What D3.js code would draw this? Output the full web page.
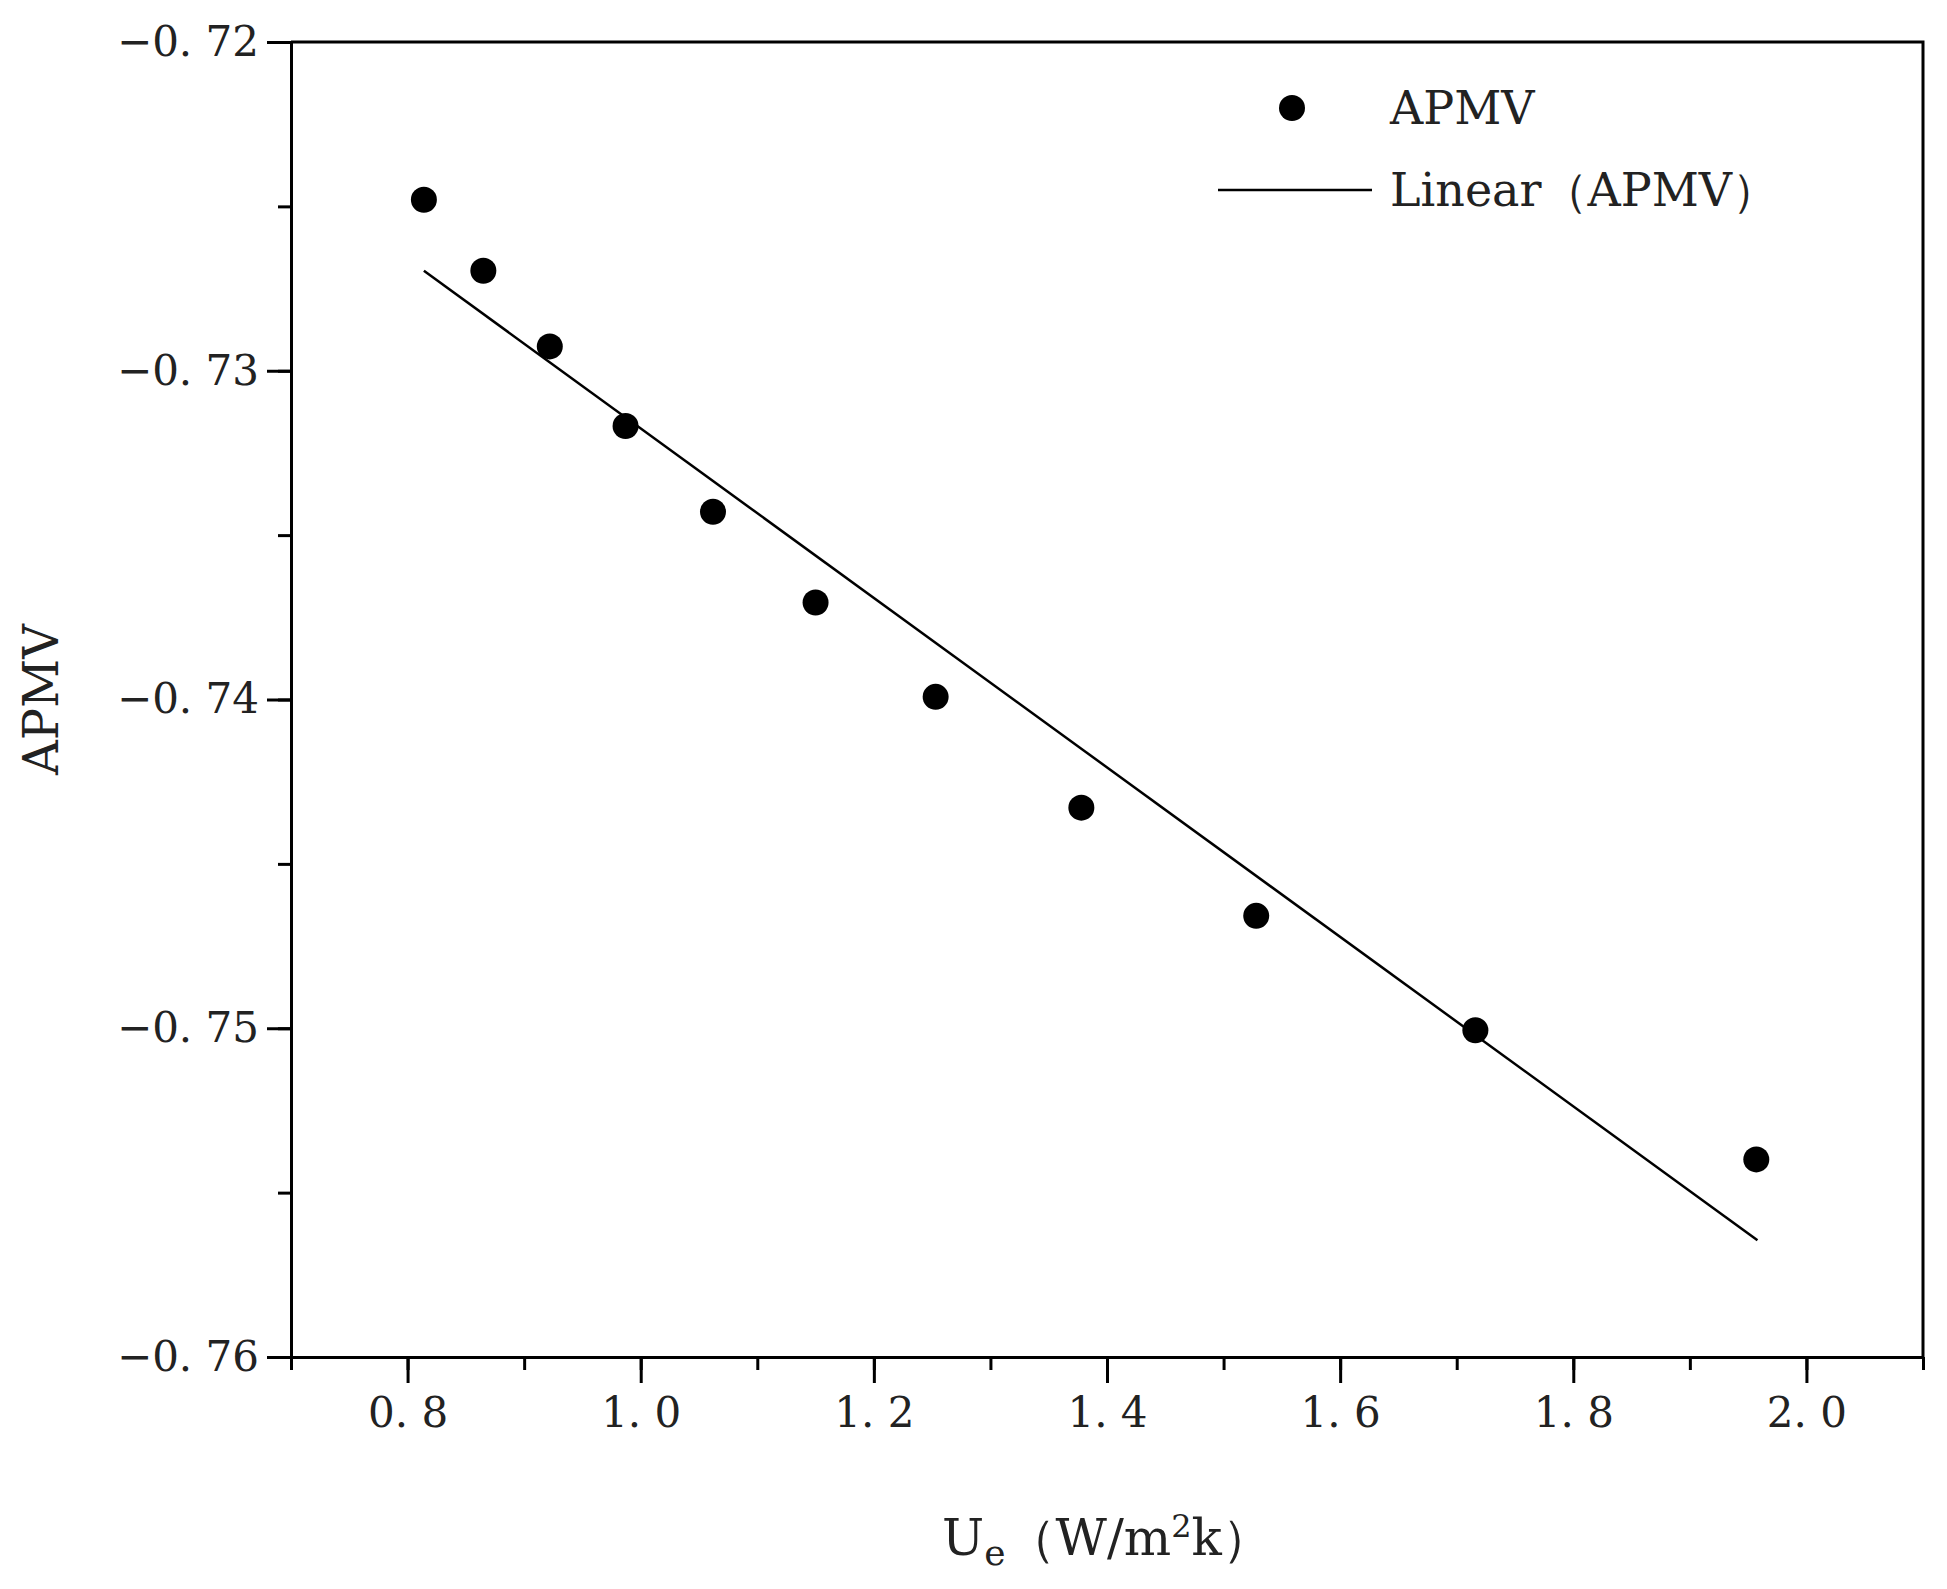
<!DOCTYPE html>
<html>
<head>
<meta charset="utf-8">
<script src="https://cdn.jsdelivr.net/npm/d3@7"></script>
<style>
  body { margin: 0; background: #fff; }
  text { font-family: "DejaVu Serif", "Liberation Serif", serif; fill: #222; }
</style>
</head>
<body>
<div id="chart"></div>
<script>
// data
const ueValues = [0.814, 0.865, 0.922, 0.987, 1.062, 1.150, 1.253, 1.378, 1.528, 1.716, 1.957];
const apmvValues = [-0.7248, -0.72696, -0.72926, -0.73168, -0.73429, -0.73705, -0.73992, -0.74329, -0.74658, -0.75006, -0.75399];
const fitX = [0.814, 1.958];
const fitY = [-0.72696, -0.75645];
const xTicks = [0.8, 1.0, 1.2, 1.4, 1.6, 1.8, 2.0];
const yTicks = [-0.72, -0.73, -0.74, -0.75, -0.76];

const width = 1947, height = 1589;
const margin = { left: 291, right: 24, top: 42, bottom: 232 };

const svg = d3.select("#chart").append("svg")
  .attr("width", width).attr("height", height);

const x = d3.scaleLinear().domain([0.7, 2.1]).range([margin.left, width - margin.right]);
const y = d3.scaleLinear().domain([-0.76, -0.72]).range([height - margin.bottom, margin.top]);

const fmt = v => d3.format(".1f")(v).replace(".", ". ");
const fmtY = v => d3.format(".2f")(v).replace("-", "\u2212").replace(".", ". ");

// minor ticks
svg.append("g")
  .attr("transform", `translate(0,${y.range()[0]})`)
  .call(d3.axisBottom(x).tickValues(d3.range(0.7, 2.1001, 0.1)).tickSize(13).tickFormat(""))
  .call(g => g.select(".domain").remove())
  .selectAll("line").attr("stroke-width", 3);
svg.append("g")
  .attr("transform", `translate(${margin.left},0)`)
  .call(d3.axisLeft(y).tickValues(d3.range(-0.76, -0.7199, 0.005)).tickSize(13).tickFormat(""))
  .call(g => g.select(".domain").remove())
  .selectAll("line").attr("stroke-width", 3);

// major axes
const xAxis = svg.append("g")
  .attr("transform", `translate(0,${y.range()[0]})`)
  .call(d3.axisBottom(x).tickValues(xTicks).tickSize(26).tickSizeOuter(0).tickPadding(14).tickFormat(fmt));
xAxis.selectAll("text").attr("font-size", 42);
const yAxis = svg.append("g")
  .attr("transform", `translate(${margin.left},0)`)
  .call(d3.axisLeft(y).tickValues(yTicks).tickSize(24).tickSizeOuter(0).tickPadding(8).tickFormat(fmtY));
yAxis.selectAll("text").attr("font-size", 42);
svg.selectAll(".domain, .tick line").attr("stroke", "#000").attr("stroke-width", 3);

// top and right frame
svg.append("path")
  .attr("d", `M${x.range()[0]},${y.range()[1]}H${x.range()[1]}V${y.range()[0]}`)
  .attr("fill", "none").attr("stroke", "#000").attr("stroke-width", 3);

// fit line
const line = d3.line().x(d => x(d[0])).y(d => y(d[1]));
svg.append("path")
  .datum(fitX.map((v, i) => [v, fitY[i]]))
  .attr("d", line).attr("fill", "none").attr("stroke", "#000").attr("stroke-width", 2.5);

// points
svg.append("g").selectAll("circle")
  .data(ueValues.map((v, i) => [v, apmvValues[i]]))
  .join("circle")
  .attr("cx", d => x(d[0])).attr("cy", d => y(d[1]))
  .attr("r", 13).attr("fill", "#000");

// legend
const lg = svg.append("g");
lg.append("circle").attr("cx", 1292).attr("cy", 108).attr("r", 13).attr("fill", "#000");
lg.append("text").attr("x", 1390).attr("y", 124).attr("font-size", 46).text("APMV");
lg.append("line").attr("x1", 1218).attr("x2", 1372).attr("y1", 190).attr("y2", 190)
  .attr("stroke", "#000").attr("stroke-width", 2.5);
lg.append("text").attr("x", 1390).attr("y", 206).attr("font-size", 46).text("Linear（APMV）");

// axis titles
svg.append("text")
  .attr("transform", `translate(58,${(y.range()[0] + y.range()[1]) / 2}) rotate(-90)`)
  .attr("text-anchor", "middle").attr("font-size", 48).text("APMV");
const xt = svg.append("text")
  .attr("x", (x.range()[0] + x.range()[1]) / 2).attr("y", 1555)
  .attr("text-anchor", "middle").attr("font-size", 50);
xt.append("tspan").text("U");
xt.append("tspan").attr("font-size", 36).attr("dy", 10).text("e");
xt.append("tspan").attr("dy", -10).text("（W/m");
xt.append("tspan").attr("font-size", 32).attr("dy", -18).text("2");
xt.append("tspan").attr("dy", 18).text("k）");
</script>
</body>
</html>
